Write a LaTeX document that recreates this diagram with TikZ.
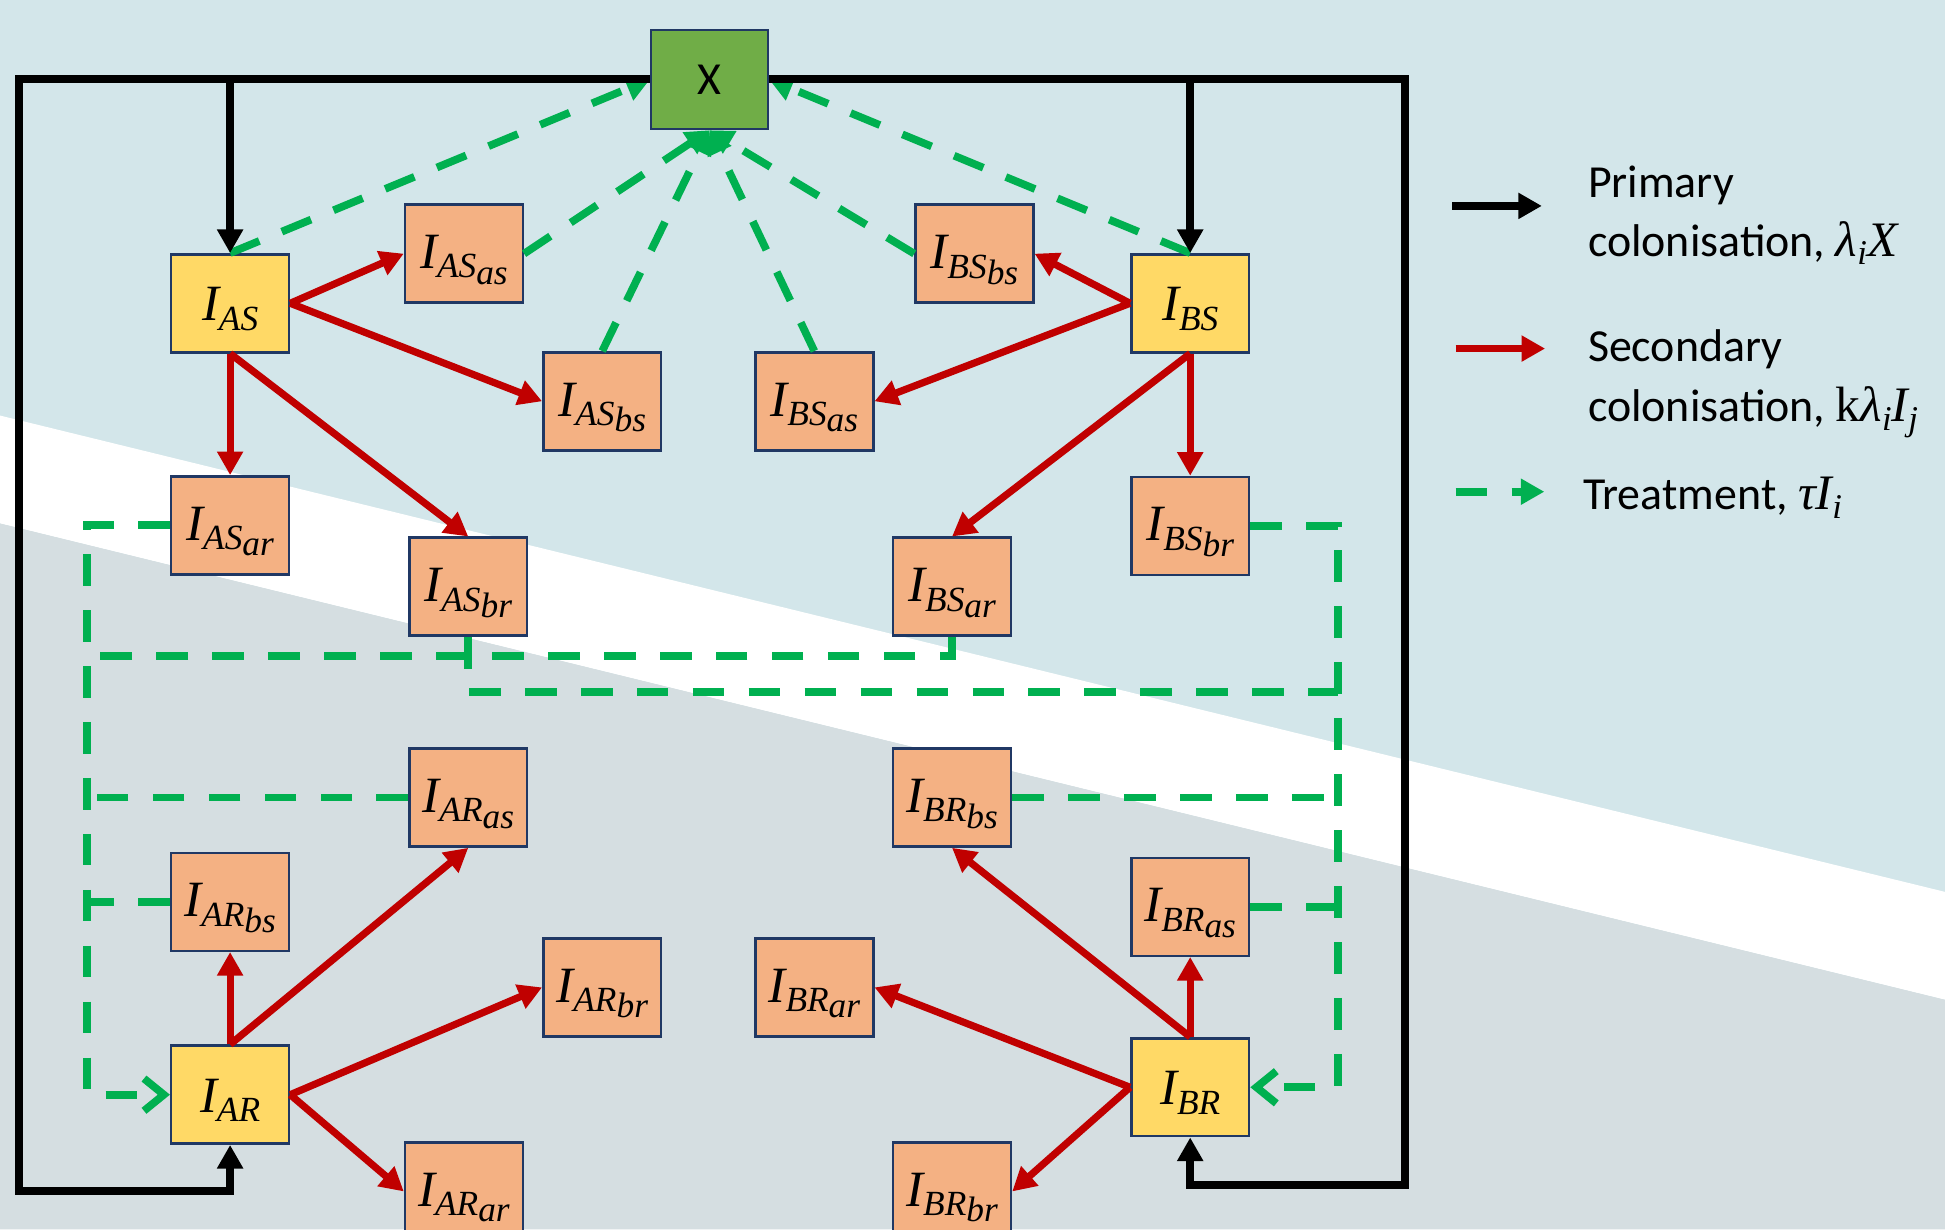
\documentclass[tikz,border=0pt]{standalone}
\usepackage{fontspec}
\setmainfont{Carlito}
\newfontfamily\lserif{Liberation Serif}
\usetikzlibrary{arrows.meta}

\definecolor{bgblue}{RGB}{211,230,234}
\definecolor{bggrey}{RGB}{213,222,225}
\definecolor{boxyel}{RGB}{255,217,102}
\definecolor{boxorg}{RGB}{244,177,131}
\definecolor{boxgrn}{RGB}{112,173,71}
\definecolor{boxline}{RGB}{32,56,100}
\definecolor{arrred}{RGB}{192,0,0}
\definecolor{arrgrn}{RGB}{0,176,80}

\newcommand{\Iy}[1]{{\rule{0pt}{36pt}\lserif\itshape\fontsize{41}{41}\selectfont I\raisebox{-7.5pt}{\fontsize{28.5}{28.5}\selectfont #1}}}
\newcommand{\Io}[2]{{\rule{0pt}{37pt}\lserif\itshape\fontsize{41}{41}\selectfont I\raisebox{-7.5pt}{\fontsize{28.5}{28.5}\selectfont #1\raisebox{-5pt}{#2}}}}
\newcommand{\lsub}[1]{\raisebox{-7pt}{\fontsize{28}{28}\selectfont #1}}
\newcommand{\lmath}[1]{{\lserif\fontsize{40}{44}\selectfont #1}}

\tikzset{
  box/.style={draw=boxline, line width=2pt, minimum width=95pt, minimum height=79pt, inner sep=0pt, anchor=center},
  ybox/.style={box, fill=boxyel},
  obox/.style={box, fill=boxorg},
  prim/.style={black, line width=6.5pt, line join=miter, -{Triangle[length=19pt,width=20pt]}},
  sec/.style={arrred, line width=5.8pt, -{Triangle[length=19pt,width=20pt]}},
  trt/.style={arrgrn, line width=6.2pt, dash pattern=on 25.5pt off 19.6pt},
  trtx/.style={trt, -{Triangle[length=19pt,width=20pt]}},
  trtb/.style={trt, -{Straight Barb[length=16pt,width=26pt]}},
  lgd/.style={anchor=base west, inner sep=0pt, font=\fontsize{37}{44}\selectfont},
}

\begin{document}
\begin{tikzpicture}[x=1pt,y=-1pt]
\useasboundingbox (0,0) rectangle (1568,991);
% background
\fill[bgblue] (0,0) rectangle (1568,991);
\fill[white] (0,335) -- (1568,719) -- (1568,806) -- (0,422) -- cycle;
\fill[bggrey] (0,422) -- (1568,806) -- (1568,991) -- (0,991) -- cycle;

% nodes
\node[box, fill=boxgrn, minimum width=94pt, minimum height=80pt, font=\fontsize{37}{37}\selectfont] (X) at (572,64) {X};

\node[ybox] (IAS) at (185.5,244.5) {\Iy{AS}};
\node[ybox] (IBS) at (959.5,244.5) {\Iy{BS}};
\node[ybox] (IAR) at (185.5,882.5) {\Iy{AR}};
\node[ybox] (IBR) at (959.5,876.5) {\Iy{BR}};

\node[obox] (IASas) at (374,204.5) {\Io{AS}{as}};
\node[obox] (IASbs) at (485.5,323.5) {\Io{AS}{bs}};
\node[obox] (IBSas) at (656.5,323.5) {\Io{BS}{as}};
\node[obox] (IBSbs) at (785.5,204.5) {\Io{BS}{bs}};
\node[obox] (IASar) at (185.5,423.5) {\Io{AS}{ar}};
\node[obox] (IASbr) at (377.5,473) {\Io{AS}{br}};
\node[obox] (IBSar) at (767.5,473) {\Io{BS}{ar}};
\node[obox] (IBSbr) at (959.5,424) {\Io{BS}{br}};
\node[obox] (IARas) at (377.5,643) {\Io{AR}{as}};
\node[obox] (IBRbs) at (767.5,643) {\Io{BR}{bs}};
\node[obox] (IARbs) at (185.5,727) {\Io{AR}{bs}};
\node[obox] (IBRas) at (959.5,731) {\Io{BR}{as}};
\node[obox] (IARbr) at (485.5,796) {\Io{AR}{br}};
\node[obox] (IBRar) at (656.5,796) {\Io{BR}{ar}};
\node[obox] (IARar) at (374,960.5) {\Io{AR}{ar}};
\node[obox] (IBRbr) at (767.5,960.5) {\Io{BR}{br}};

% helper coordinates
\coordinate (lv) at (70,0);
\coordinate (rv) at (1078.5,0);
\coordinate (jA) at (70,529);
\coordinate (jB) at (1078.5,558);
\coordinate (fl) at (15,960);
\coordinate (fr) at (1133,955);

% treatment (green)
\draw[trtx] (IAS.north) -- (X.west);
\draw[trtx] (IBS.north) -- (X.east);
\draw[trtx] (IASas.east) -- (X.south);
\draw[trtx] (IASbs.north) -- (X.south);
\draw[trtx] (IBSas.north) -- (X.south);
\draw[trtx] (IBSbs.west) -- (X.south);

\draw[trtb] (IASar.west) -- (IASar.west -| lv) |- (IAR.west);
\draw[trt] (IBSar.south) |- (jA);
\draw[trt] (IARas.west) -- (IARas.west -| lv);
\draw[trt] (IARbs.west) -- (IARbs.west -| lv);

\draw[trtb] (IBSbr.east) -- (IBSbr.east -| rv) |- (IBR.east);
\draw[trt] (IASbr.south) |- (jB);
\draw[trt] (IBRbs.east) -- (IBRbs.east -| rv);
\draw[trt] (IBRas.east) -- (IBRas.east -| rv);

% secondary (red)
\draw[sec] (IAS.east) -- (IASas.west);
\draw[sec] (IAS.east) -- (IASbs.west);
\draw[sec] (IAS.south) -- (IASar.north);
\draw[sec] (IAS.south) -- (IASbr.north);
\draw[sec] (IBS.west) -- (IBSbs.east);
\draw[sec] (IBS.west) -- (IBSas.east);
\draw[sec] (IBS.south) -- (IBSbr.north);
\draw[sec] (IBS.south) -- (IBSar.north);
\draw[sec] (IAR.north) -- (IARbs.south);
\draw[sec] (IAR.north) -- (IARas.south);
\draw[sec] (IAR.east) -- (IARbr.west);
\draw[sec] (IAR.east) -- (IARar.west);
\draw[sec] (IBR.north) -- (IBRas.south);
\draw[sec] (IBR.north) -- (IBRbs.south);
\draw[sec] (IBR.west) -- (IBRar.east);
\draw[sec] (IBR.west) -- (IBRbr.east);

% primary (black)
\draw[prim] (X.west) -| (fl) -| (IAR.south);
\draw[prim] (X.east) -| (fr) -| (IBR.south);
\draw[prim] (IAS.north |- X.west) -- (IAS.north);
\draw[prim] (IBS.north |- X.east) -- (IBS.north);

% legend
\coordinate (k1a) at (1170.6,166);
\coordinate (k1b) at (1243,166);
\coordinate (k2a) at (1173.5,281);
\coordinate (k2b) at (1245.6,281);
\coordinate (k3a) at (1173.5,396.4);
\coordinate (k3b) at (1245,396.4);
\draw[prim] (k1a) -- (k1b);
\draw[sec] (k2a) -- (k2b);
\draw[trtx] (k3a) -- (k3b);

\node[lgd] (p1) at (1280,159) {Primary};
\node[lgd] (p2) at (1280,206.4) {colonisation, \lmath{\itshape λ\lsub{i}X}};
\node[lgd] (s1) at (1280,291.6) {Secondary};
\node[lgd] (s2) at (1280,340) {colonisation, \lmath{k\itshape λ\lsub{i}I\lsub{j}}};
\node[lgd] (t1) at (1276,410.6) {Treatment, \lmath{\itshape τI\lsub{i}}};
\end{tikzpicture}
\end{document}
